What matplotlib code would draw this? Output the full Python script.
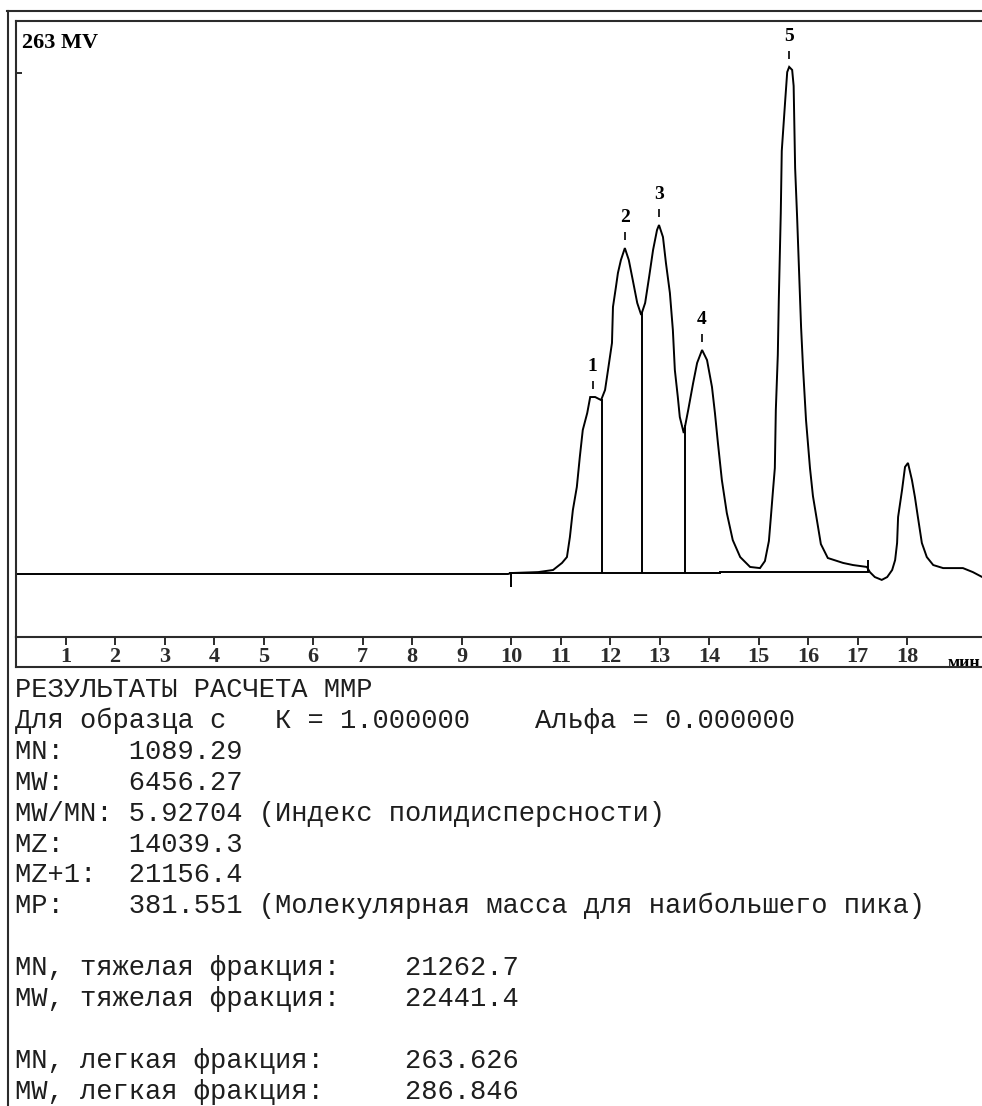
import matplotlib
matplotlib.use('Agg')
import matplotlib.pyplot as plt
import numpy as np
from matplotlib.lines import Line2D

# chromatogram trace, minutes vs mV
time_min = [0.0, 9.94, 10.0, 10.55, 10.85, 11.03, 11.13, 11.19, 11.25, 11.33, 11.39, 11.45,
            11.54, 11.60, 11.70, 11.82, 11.90, 11.96, 12.04, 12.06, 12.12, 12.16, 12.22, 12.30,
            12.38, 12.46, 12.55, 12.63, 12.71, 12.79, 12.87, 12.95, 12.99, 13.07, 13.13, 13.21,
            13.27, 13.31, 13.37, 13.41, 13.49, 13.58, 13.68, 13.76, 13.86, 13.96, 14.06, 14.12,
            14.18, 14.26, 14.36, 14.48, 14.63, 14.83, 15.03, 15.13, 15.21, 15.25, 15.29, 15.33,
            15.35, 15.39, 15.41, 15.45, 15.47, 15.54, 15.58, 15.62, 15.68, 15.71, 15.74, 15.78,
            15.82, 15.86, 15.90, 15.96, 16.04, 16.10, 16.18, 16.26, 16.40, 16.71, 16.91, 17.19,
            17.25, 17.35, 17.49, 17.60, 17.70, 17.76, 17.80, 17.82, 17.90, 17.96, 18.02, 18.10,
            18.16, 18.22, 18.30, 18.40, 18.53, 18.73, 19.13, 19.33, 19.52, 19.78]
signal_mv = [0.0, 0.0, 0.5, 1.0, 2.1, 5.8, 8.9, 19.4, 33.6, 45.7, 61.4, 75.6,
             84.5, 92.9, 92.9, 91.3, 96.6, 107.1, 121.3, 140.2, 150.7, 158.0, 164.8, 171.1,
             164.8, 154.3, 142.3, 136.0, 142.3, 155.9, 170.1, 180.6, 183.2, 176.9, 163.3, 147.5,
             128.1, 107.1, 92.9, 82.4, 74.0, 86.1, 100.3, 110.8, 117.6, 112.3, 98.2, 84.5,
             68.8, 49.3, 32.0, 17.8, 8.9, 3.7, 3.1, 6.8, 17.3, 29.9, 43.0, 55.6,
             86.1, 115.0, 143.8, 189.5, 222.1, 248.8, 263.5, 266.2, 264.6, 256.2, 213.1, 187.4,
             158.5, 129.7, 108.1, 80.8, 55.6, 40.9, 28.3, 15.7, 8.4, 5.8, 4.7, 3.7,
             1.0, -1.6, -3.1, -1.6, 2.1, 7.3, 16.3, 29.9, 44.1, 56.2, 58.3, 49.3,
             40.4, 29.9, 16.3, 8.9, 4.7, 3.1, 3.1, 1.0, -1.6, -4.2]

peak_labels = ['1', '2', '3', '4', '5']
peak_t = [11.65, 12.30, 12.99, 13.86, 15.62]
peak_v = [92.9, 171.1, 183.2, 117.6, 266.2]

drop_t = [11.83, 12.65, 13.52]
base1_t = [9.98, 14.22]
base1_v = [0.3, 0.3]
base2_t = [14.22, 17.21]
base2_v = [0.9, 0.9]

xticks = list(range(1, 19))
scale_mv = 263

report_lines = [
    'РЕЗУЛЬТАТЫ РАСЧЕТА ММР',
    'Для образца с   К = 1.000000    Альфа = 0.000000',
    'MN:    1089.29',
    'MW:    6456.27',
    'MW/MN: 5.92704 (Индекс полидисперсности)',
    'MZ:    14039.3',
    'MZ+1:  21156.4',
    'MP:    381.551 (Молекулярная масса для наибольшего пика)',
    '',
    'MN, тяжелая фракция:    21262.7',
    'MW, тяжелая фракция:    22441.4',
    '',
    'MN, легкая фракция:     263.626',
    'MW, легкая фракция:     286.846',
]

W, H = 982, 1106
fig = plt.figure(figsize=(W / 100, H / 100), dpi=100)
fig.patch.set_facecolor('white')

def fx(px):
    return px / W

def fy(py):
    return 1 - py / H

frame_c = '#2b2b2b'
lw_frame = 1.5
serif = dict(family='Liberation Serif', weight='bold', size=16)

ax = fig.add_axes([fx(16), fy(637), fx(1000) - fx(16), fy(21) - fy(637)])
ax.set_xlim(0, (1000 - 16) / 49.5)
ax.set_ylim((574 - 637) * 263 / 501, (574 - 21) * 263 / 501)
for s in ax.spines.values():
    s.set_linewidth(lw_frame)
    s.set_color(frame_c)

ax.set_xticks(xticks)
ax.set_xticklabels([str(k) for k in xticks], fontdict=serif)
ax.tick_params(axis='x', direction='out', length=6, width=1.4, pad=1, colors=frame_c)
ax.set_yticks([scale_mv])
ax.set_yticklabels([''])
ax.tick_params(axis='y', direction='in', length=4.5, width=1.4, colors=frame_c)

ax.text(0.13, 278.5, '%d MV' % scale_mv, va='center', ha='left', fontdict=serif)
ax.text(18.82, -0.03, 'мин', transform=ax.get_xaxis_transform(), ha='left', va='top',
        family='Liberation Serif', weight='bold', size=13)

ax.plot(time_min, signal_mv, color='black', lw=1.4, solid_joinstyle='miter')
ax.plot(base1_t, base1_v, color='black', lw=1.4)
ax.plot(base2_t, base2_v, color='black', lw=1.4)
ax.vlines(drop_t, 0.3, np.interp(drop_t, time_min, signal_mv), color='black', lw=1.4)
ax.vlines([base1_t[0] + 0.02], -6.8, base1_v[0], color='black', lw=1.4)
ax.vlines([base2_t[1]], base2_v[1], 7.3, color='black', lw=1.4)

for lab, pt, pv in zip(peak_labels, peak_t, peak_v):
    ax.vlines(pt, pv + 4, pv + 8.5, color='black', lw=1.2)
    ax.text(pt, pv + 16, lab, ha='center', va='center', family='Liberation Serif',
            weight='bold', size=14)

# rest of the chart frame under the time axis and the outer border
fig.add_artist(Line2D([fx(16), fx(16)], [fy(637), fy(667)], color=frame_c, lw=lw_frame))
fig.add_artist(Line2D([fx(16), fx(990)], [fy(667), fy(667)], color=frame_c, lw=lw_frame))
fig.add_artist(Line2D([fx(7.5), fx(7.5)], [fy(11), fy(1110)], color=frame_c, lw=lw_frame))
fig.add_artist(Line2D([fx(7), fx(990)], [fy(11), fy(11)], color=frame_c, lw=lw_frame))

for i, line in enumerate(report_lines):
    fig.text(fx(15), fy(697 + 30.9 * i), line, ha='left', va='baseline',
             family='Liberation Mono', size=19.5, color='#1e1e1e')

fig.savefig('out.png', dpi=100)
